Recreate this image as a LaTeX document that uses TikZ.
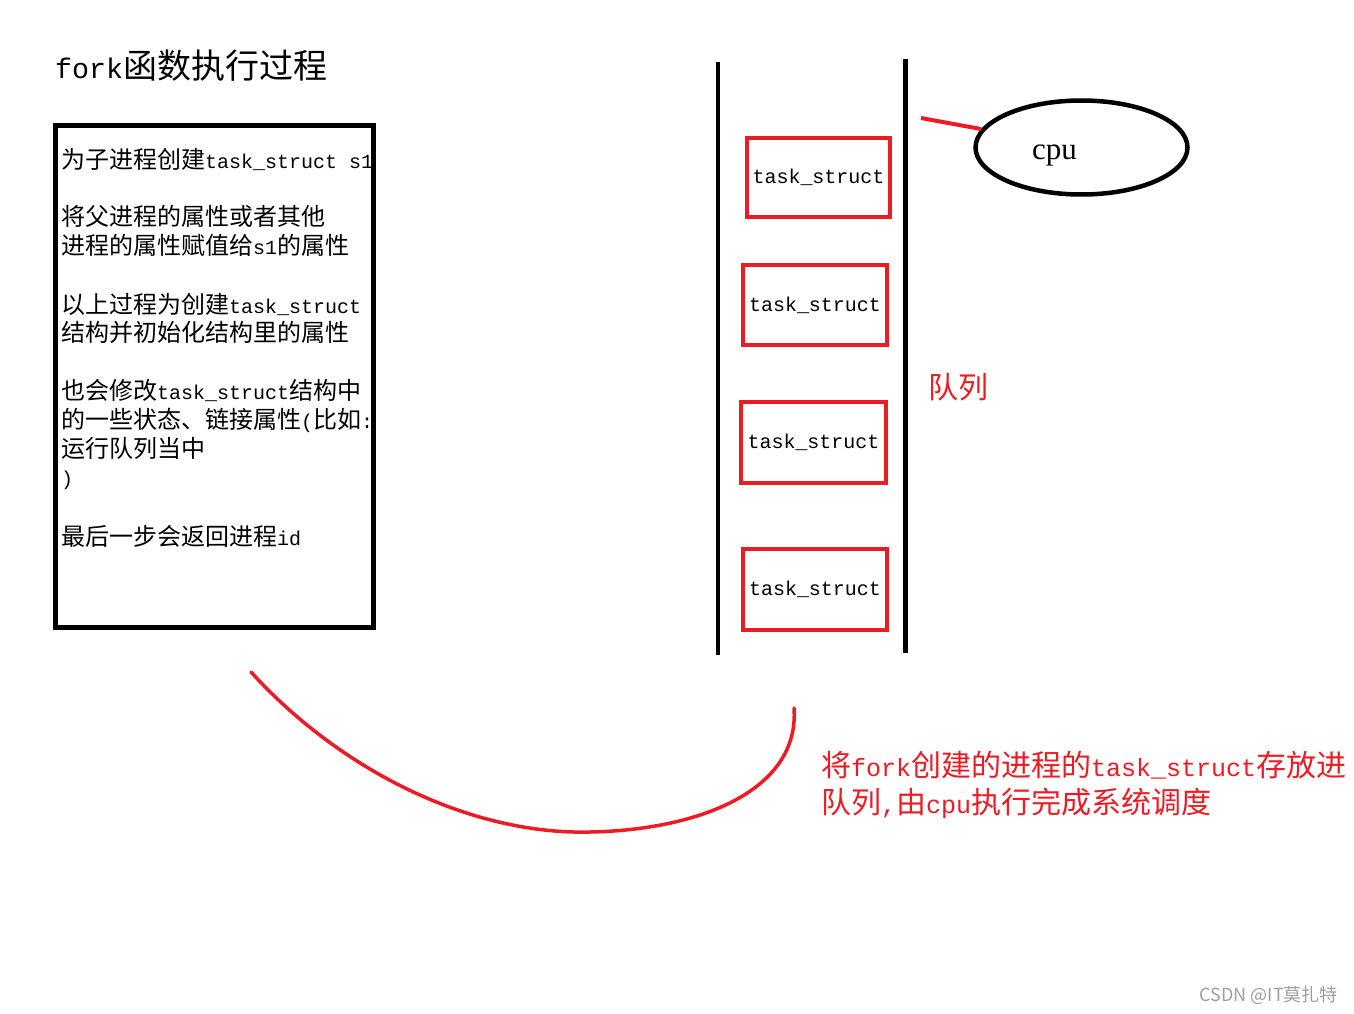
\documentclass[tikz,border=0pt]{standalone}
\usepackage{fontspec}
\setmainfont{Noto Sans CJK SC}
\newfontfamily\hwfont{Liberation Mono}[Scale=0.8333]
\newfontfamily\cpufont{Liberation Serif}
\newcommand\hw[1]{{\hwfont #1}}
\usetikzlibrary{shapes.geometric}
\definecolor{pred}{HTML}{ED1C24}
\begin{document}
\begin{tikzpicture}[x=1pt,y=-1pt,
  txt/.style={anchor=base west, inner sep=0pt, font=\fontsize{24}{29}\selectfont},
  qbox/.style={draw=pred, line width=4pt, inner sep=0pt, minimum width=144pt, minimum height=80pt, font=\fontsize{24}{28}\hwfont},
  rednote/.style={anchor=base west, inner sep=0pt, text=pred, font=\fontsize{30}{36}\selectfont},
  qline/.style={line width=4.5pt}
]
\useasboundingbox (0,0) rectangle (1354,1014);
\fill[white] (0,0) rectangle (1354,1014);

% title
\node[anchor=base west, inner sep=0pt, font=\fontsize{34}{40}\selectfont] (title) at (55,79) {\hw{fork}函数执行过程};

% process box
\node[draw, line width=5pt, minimum width=318pt, minimum height=502pt, inner sep=0pt] (procbox) at (214.5,376.5) {};
\node[txt] (l1) at (61,168) {为子进程创建\hw{task\_struct s1}};
\node[txt] (l2) at (61,225) {将父进程的属性或者其他};
\node[txt] (l3) at (61,254) {进程的属性赋值给\hw{s1}的属性};
\node[txt] (l4) at (61,313) {以上过程为创建\hw{task\_struct}};
\node[txt] (l5) at (61,341) {结构并初始化结构里的属性};
\node[txt] (l6) at (61,399) {也会修改\hw{task\_struct}结构中};
\node[txt] (l7) at (61,428) {的一些状态、链接属性\hw{(}比如\hw{:}};
\node[txt] (l8) at (61,457) {运行队列当中};
\node[txt] (l9) at (61,485) {\hw{)}};
\node[txt] (l10) at (61,545) {最后一步会返回进程\hw{id}};

% queue walls
\draw[qline] (718,62) -- (718,655);
\draw[qline] (905.5,59) -- (905.5,653);

% queue entries
\node[qbox, minimum width=143pt, minimum height=79pt] (q1) at (818.5,177.5) {task\_struct};
\node[qbox] (q2) at (815,305) {task\_struct};
\node[qbox, minimum width=145pt, minimum height=81pt] (q3) at (813.5,442.5) {task\_struct};
\node[qbox, minimum height=81pt] (q4) at (815,589.5) {task\_struct};

\node[rednote, font=\fontsize{30}{36}\selectfont] (qlabel) at (928,398) {队列};

% cpu
\node[ellipse, draw, line width=4.5pt, minimum width=212pt, minimum height=94pt, inner sep=0pt] (cpu) at (1081.5,147.5) {};
\node[anchor=base west, inner sep=0pt, font=\fontsize{31}{31}\cpufont] (cputxt) at (1032,160) {cpu};
\coordinate (rl) at (921,118);
\draw[pred, line width=4pt] (rl) -- (cpu);

% curve
\coordinate (cs) at (251,672);
\coordinate (ce) at (794,708);
\draw[pred, line width=3.5pt, line cap=round] (cs) .. controls (340,770) and (470,835) .. (590,832) .. controls (700,830) and (800,790) .. (ce);

% note
\node[rednote] (note1) at (821,776) {将\hw{fork}创建的进程的\hw{task\_struct}存放进};
\node[rednote] (note2) at (821,813) {队列\hw{,}由\hw{cpu}执行完成系统调度};

% watermark
\node[anchor=base east, inner sep=0pt, text=black!38, font=\fontsize{18}{18}\selectfont] (wm) at (1338,1001) {CSDN @IT莫扎特};
\end{tikzpicture}
\end{document}
